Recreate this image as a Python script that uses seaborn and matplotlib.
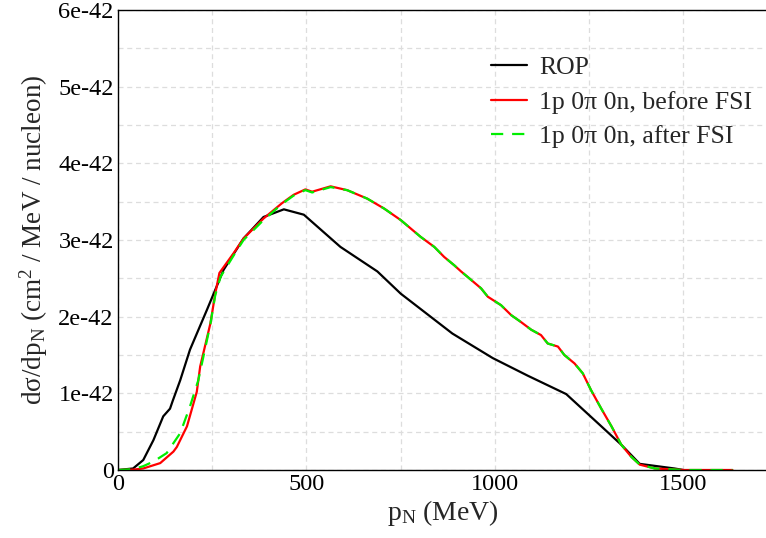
import numpy as np
import pandas as pd
import matplotlib
matplotlib.use("Agg")
import matplotlib.pyplot as plt
import seaborn as sns
from matplotlib.ticker import MultipleLocator, FixedLocator, FixedFormatter

# ---- data (values in units of 1e-42) ----
rop_x = [0, 40, 67, 94, 120, 138, 145, 165, 191, 236, 280, 333, 386, 440, 493, 590, 688, 750,
         887, 994, 1087, 1189, 1282, 1335, 1384, 1476, 1500]
rop_y = [0, 0.02, 0.13, 0.39, 0.70, 0.80, 0.90, 1.17, 1.57, 2.09, 2.61, 3.02, 3.30, 3.40, 3.33,
         2.91, 2.59, 2.30, 1.78, 1.46, 1.23, 0.99, 0.57, 0.33, 0.08, 0.02, 0.0]

before_x = [0, 40, 67, 112, 147, 156, 183, 209, 218, 245, 258, 269, 307, 333, 386, 435, 466, 497,
            515, 564, 608, 661, 706, 750, 803, 839, 865, 892, 910, 927, 963, 981, 1016, 1043,
            1069, 1096, 1122, 1140, 1167, 1184, 1211, 1233, 1255, 1282, 1309, 1335, 1362, 1384,
            1424, 1500, 1630]
before_y = [0, 0.005, 0.02, 0.09, 0.24, 0.30, 0.57, 1.02, 1.35, 1.91, 2.30, 2.57, 2.83, 3.02, 3.28,
            3.48, 3.59, 3.66, 3.63, 3.70, 3.65, 3.54, 3.41, 3.26, 3.04, 2.91, 2.78, 2.67, 2.59,
            2.52, 2.37, 2.26, 2.15, 2.02, 1.93, 1.83, 1.76, 1.65, 1.61, 1.50, 1.39, 1.26, 1.04,
            0.80, 0.57, 0.33, 0.17, 0.07, 0.02, 0.0, 0.0]

after_x = [0, 40, 67, 94, 129, 165, 191, 213, 245, 258, 272, 307, 333, 386, 435, 466, 497,
           515, 564, 608, 661, 706, 750, 803, 839, 865, 892, 910, 927, 963, 981, 1016, 1043,
           1069, 1096, 1122, 1140, 1167, 1184, 1211, 1233, 1255, 1282, 1309, 1335, 1362, 1384,
           1424, 1500, 1630]
after_y = [0, 0.01, 0.05, 0.11, 0.22, 0.48, 0.83, 1.17, 1.90, 2.28, 2.52, 2.80, 3.00, 3.26,
           3.47, 3.58, 3.65, 3.62, 3.69, 3.65, 3.54, 3.41, 3.26, 3.04, 2.91, 2.78, 2.67, 2.59,
           2.52, 2.37, 2.26, 2.15, 2.02, 1.93, 1.83, 1.76, 1.65, 1.61, 1.50, 1.39, 1.26, 1.04,
           0.80, 0.57, 0.33, 0.17, 0.07, 0.02, 0.0, 0.0]

series_names = ["ROP", "1p 0\u03c0 0n, before FSI", "1p 0\u03c0 0n, after FSI"]
x_ticks = [0, 500, 1000, 1500]
x_tick_labels = ["0", "500", "1000", "1500"]
y_ticks = [0, 1e-42, 2e-42, 3e-42, 4e-42, 5e-42, 6e-42]
y_tick_labels = ["0", "1e-42", "2e-42", "3e-42", "4e-42", "5e-42", "6e-42"]

scale = 1e-42
df = pd.concat([
    pd.DataFrame({"x": rop_x, "y": np.array(rop_y) * scale, "s": series_names[0]}),
    pd.DataFrame({"x": before_x, "y": np.array(before_y) * scale, "s": series_names[1]}),
    pd.DataFrame({"x": after_x, "y": np.array(after_y) * scale, "s": series_names[2]}),
])

sns.set_style("white")
plt.rcParams["font.family"] = ["Liberation Serif", "DejaVu Serif"]
plt.rcParams["mathtext.fontset"] = "custom"
plt.rcParams["mathtext.rm"] = "Liberation Serif"
plt.rcParams["mathtext.it"] = "Liberation Serif"

fig = plt.figure(figsize=(7.66, 5.38), dpi=100)
ax = fig.add_axes([118 / 766, 1 - 470 / 538, 1.0 - 118 / 766 + 0.002, 460 / 538])

palette = {series_names[0]: "black", series_names[1]: "#ff0000", series_names[2]: "#00ee00"}
dashes = {series_names[0]: "", series_names[1]: "", series_names[2]: (5.5, 4)}
sns.lineplot(data=df, x="x", y="y", hue="s", style="s", palette=palette, dashes=dashes,
             linewidth=1.6, ax=ax, sort=False, estimator=None)

ax.set_xlim(0, 1723)
ax.set_ylim(0, 6e-42)
ax.xaxis.set_major_locator(FixedLocator(x_ticks))
ax.xaxis.set_major_formatter(FixedFormatter(x_tick_labels))
ax.yaxis.set_major_locator(FixedLocator(y_ticks))
ax.yaxis.set_major_formatter(FixedFormatter(y_tick_labels))
ax.xaxis.set_minor_locator(MultipleLocator(250))
ax.yaxis.set_minor_locator(MultipleLocator(0.5e-42))
ax.grid(True, which="both", linestyle=(0, (4, 3)), color="#dddddd", linewidth=0.9)
ax.set_axisbelow(True)
ax.tick_params(which="both", length=0, labelsize=17.5, pad=3, colors="black")

for sp in ["left", "bottom", "top"]:
    ax.spines[sp].set_color("black")
    ax.spines[sp].set_linewidth(1.0)
ax.spines["right"].set_visible(False)

ax.set_xlabel(r"p$_\mathregular{N}$ (MeV)", fontsize=20, labelpad=2)
ax.set_ylabel(r"d$\sigma$/dp$_\mathregular{N}$ (cm$^\mathregular{2}$ / MeV / nucleon)", fontsize=19.5, labelpad=6)

leg = ax.legend(loc="upper left", bbox_to_anchor=(0.538, 0.95), frameon=False, fontsize=18.5,
                handlelength=1.4, handletextpad=0.5, labelspacing=0.45, title=None)

fig.savefig("out.png", dpi=100)
